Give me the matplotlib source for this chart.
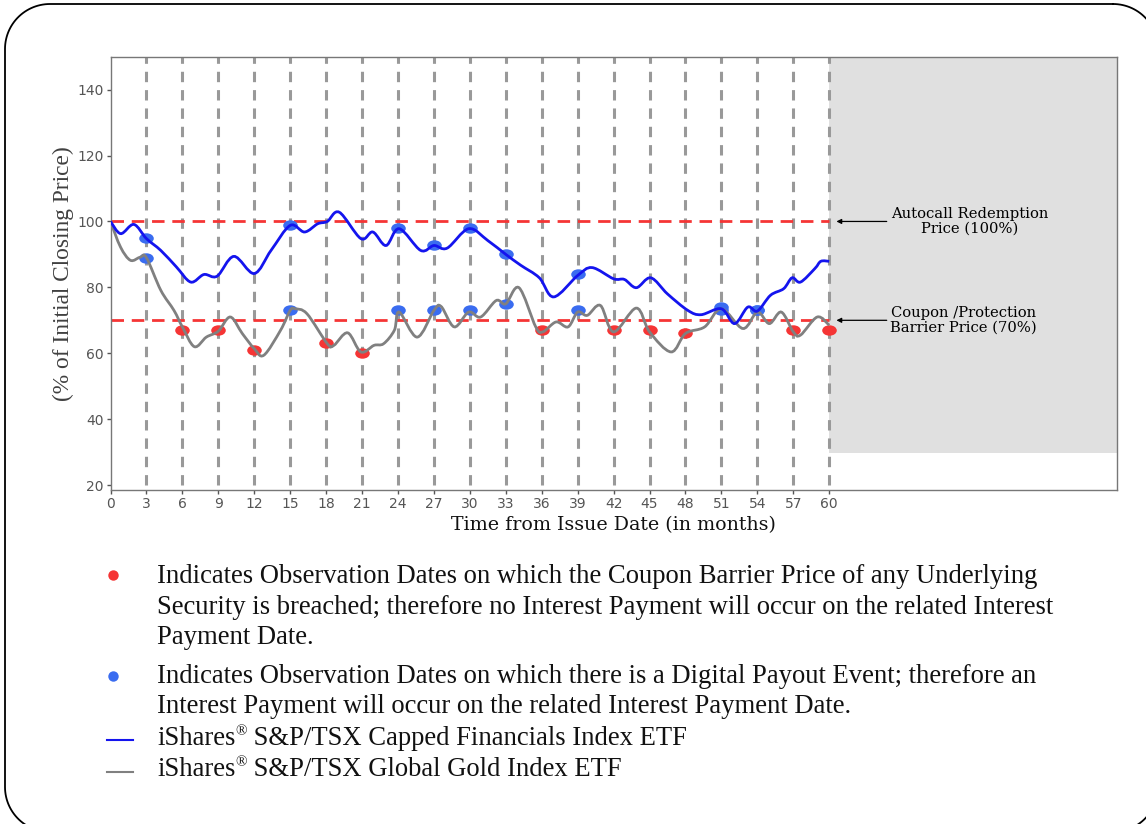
import numpy as np
import matplotlib
matplotlib.use("Agg")
import matplotlib.pyplot as plt
from matplotlib.patches import PathPatch
from matplotlib.lines import Line2D
from matplotlib.path import Path
from matplotlib.transforms import Affine2D, IdentityTransform

W, H = 1146, 824

# Financials ETF path (% of initial closing price)
fin_x = [0, 0.85, 1.95, 3, 4.2, 5.5, 6.7, 7.8, 8.9, 10.3, 12, 13.4, 15, 16.2, 17.3,
         18.1, 19.1, 20.9, 21.9, 23, 24.1, 25.9, 27, 28.1, 29.9, 31.5, 33, 34.25,
         35.8, 37, 39, 40.2, 42, 42.9, 43.9, 45.1, 46.5, 48.2, 49.3, 51, 52.1, 53.2,
         54, 55.1, 56.2, 56.9, 57.6, 58.8, 59.3, 60]
fin_y = [100, 96.3, 99.1, 94.8, 91.2, 86.2, 81.6, 83.9, 83.4, 89.4, 84.2, 91.2, 98.8,
         96.8, 99.3, 100, 102.8, 94.8, 96.8, 92.7, 97.8, 91.2, 92.7, 91.9, 97.8, 94.2,
         90, 86.7, 82.9, 77.1, 83.6, 86, 82.6, 82.4, 79.9, 82.9, 78, 73, 71.7, 73.5,
         69, 74, 72.8, 77.6, 79.6, 82.9, 81.6, 85.7, 87.9, 87.9]

# Gold ETF path
gold_x = [0, 0.84, 1.67, 2.5, 3, 4.2, 5.3, 6, 7, 8, 9, 10, 11, 12, 12.8, 14.2, 15,
          15.4, 16.4, 18.1, 18.65, 19.8, 20.9, 22, 22.8, 23.7, 24.1, 25.6, 27, 27.6,
          28.7, 29.9, 30.9, 32.2, 33, 34.1, 35.5, 36.1, 37.2, 38.2, 39, 39.8, 40.9,
          42, 43.9, 45, 46.8, 48, 49.6, 51, 52.8, 54, 55, 56, 57, 57.6, 59, 60]
gold_y = [100, 92.2, 88.2, 89.2, 89, 79.1, 73, 68, 62, 64.9, 66.7, 71, 66, 61.4,
          59.4, 67, 73, 73.5, 72, 62.9, 62.4, 66.2, 60.4, 62.4, 62.9, 67, 72.5, 64.9,
          73, 74.2, 68, 72.5, 71, 76, 75, 79.9, 68, 66.5, 69.5, 68, 72.5, 71.5, 74.5,
          66.5, 73.7, 66.5, 60.4, 66, 68, 73.5, 67.5, 72.5, 69, 72.5, 66.5, 65.5, 71,
          68.5]

obs_months = list(range(3, 61, 3))
xtick_vals = list(range(0, 61, 3))
ytick_vals = [20, 40, 60, 80, 100, 120, 140]

# coupon barrier breached (red)
breach_x = [6, 9, 12, 18, 21, 36, 42, 45, 48, 57, 60]
breach_y = [67, 67, 61, 63, 60, 67, 67, 67, 66, 67, 67]
# digital payout events (blue), on both underlyings
payout_x = [3, 15, 24, 27, 30, 33, 39, 51, 54]
payout_fin_y = [95, 99, 98, 93, 98, 90, 84, 74, 73]
payout_gold_y = [89, 73, 73, 73, 73, 75, 73, 73, 73]

autocall_level = 100
barrier_level = 70

note_red = ["Indicates Observation Dates on which the Coupon Barrier Price of any Underlying",
            "Security is breached; therefore no Interest Payment will occur on the related Interest",
            "Payment Date."]
note_blue = ["Indicates Observation Dates on which there is a Digital Payout Event; therefore an",
             "Interest Payment will occur on the related Interest Payment Date."]
fin_name = " S&P/TSX Capped Financials Index ETF"
gold_name = " S&P/TSX Global Gold Index ETF"

BLUE_LINE = "#1414ee"
GOLD_LINE = "#808080"
RED = "#f53535"
BLUE_DOT = "#3a6cf0"
SERIF = ["Liberation Serif", "DejaVu Serif"]


def fx(px):
    return px / W


def fy(py):
    return 1 - py / H


def smooth_path(xs, ys):
    # smoothed line like the original (bezier through every point)
    pts = list(zip(xs, ys))
    verts = [pts[0]]
    codes = [Path.MOVETO]
    n = len(pts)
    for i in range(n - 1):
        p0 = pts[max(i - 1, 0)]
        p1 = pts[i]
        p2 = pts[i + 1]
        p3 = pts[min(i + 2, n - 1)]
        c1 = (p1[0] + (p2[0] - p0[0]) / 6, p1[1] + (p2[1] - p0[1]) / 6)
        c2 = (p2[0] - (p3[0] - p1[0]) / 6, p2[1] - (p3[1] - p1[1]) / 6)
        verts += [c1, c2, p2]
        codes += [Path.CURVE4] * 3
    return Path(verts, codes)


def rounded_frame(x0, y0, x1, y1, r):
    # outline in pixels, y measured from the top of the image
    corners = [(x1 - r, y0 + r, -90, 0), (x1 - r, y1 - r, 0, 90),
               (x0 + r, y1 - r, 90, 180), (x0 + r, y0 + r, 180, 270)]
    xs, ys = [], []
    for cx, cy, a0, a1 in corners:
        a = np.radians(np.linspace(a0, a1, 30))
        xs += list(cx + r * np.cos(a))
        ys += list(cy + r * np.sin(a))
    xs.append(xs[0])
    ys.append(ys[0])
    return xs, [H - y for y in ys]


fig = plt.figure(figsize=(W / 100, H / 100), dpi=100)
ax = fig.add_axes([fx(110.5), fy(490), (1116.7 - 110.5) / W, (490 - 56.7) / H])
ax.set_xlim(0, 84)
ax.set_ylim(18.5, 150)

# grey region after maturity
ax.fill_between([60, 84], 29.7, 150, color="#e0e0e0", lw=0, zorder=0)

ax.vlines(obs_months, 20, 150, colors="#999999", lw=2.2,
          linestyles=(0, (3.4, 2.6)), zorder=1)
ax.hlines([autocall_level, barrier_level], 0, 60, colors=RED, lw=2,
          linestyles=(0, (4.5, 2.8)), zorder=2)

ell = Path.unit_circle().transformed(Affine2D().scale(1.4, 1.0))
ax.plot(breach_x, breach_y, ls="none", marker=ell, ms=10.5, mfc=RED, mec="none", zorder=3)
ax.plot(payout_x, payout_fin_y, ls="none", marker=ell, ms=10.5, mfc=BLUE_DOT, mec="none", zorder=3)
ax.plot(payout_x, payout_gold_y, ls="none", marker=ell, ms=10.5, mfc=BLUE_DOT, mec="none", zorder=3)

ax.add_patch(PathPatch(smooth_path(gold_x, gold_y), fill=False, ec=GOLD_LINE, lw=2, zorder=4))
ax.add_patch(PathPatch(smooth_path(fin_x, fin_y), fill=False, ec=BLUE_LINE, lw=2, zorder=5))

ax.set_xticks(xtick_vals)
ax.set_yticks(ytick_vals)
ax.tick_params(colors="#555555", labelsize=10, length=3, width=1, pad=2)
for s in ax.spines.values():
    s.set_color("#777777")
    s.set_linewidth(1)

ax.set_xlabel("Time from Issue Date (in months)", family="DejaVu Serif",
              fontsize=13.7, color="#111111", labelpad=4)
ax.set_ylabel("(% of Initial Closing Price)", family=SERIF,
              fontsize=16.8, color="#404040", labelpad=2)

arrow = dict(arrowstyle="-|>", color="black", lw=0.9, mutation_scale=7,
             shrinkA=0, shrinkB=0)
ax.annotate("", xy=(60.6, autocall_level), xytext=(64.8, autocall_level), arrowprops=arrow)
ax.annotate("", xy=(60.6, barrier_level), xytext=(64.8, barrier_level), arrowprops=arrow)
ax.text(71.7, autocall_level, "Autocall Redemption\nPrice (100%)", family="DejaVu Serif",
        fontsize=10.6, ha="center", va="center", linespacing=1.0)
ax.text(71.2, barrier_level, "Coupon /Protection\nBarrier Price (70%)", family="DejaVu Serif",
        fontsize=10.6, ha="center", va="center", linespacing=1.0)

# notes below the chart
FS = 19.2
for k, line in enumerate(note_red):
    fig.text(fx(157), fy(583.3 + 30.5 * k), line, family=SERIF, fontsize=FS,
             color="#111111", va="baseline")
for k, line in enumerate(note_blue):
    fig.text(fx(157), fy(683.3 + 30 * k), line, family=SERIF, fontsize=FS,
             color="#111111", va="baseline")
fig.add_artist(Line2D([fx(113)], [fy(575)], marker="o", ms=7.5, color=RED, mec="none"))
fig.add_artist(Line2D([fx(113)], [fy(676)], marker="o", ms=7.5, color=BLUE_DOT, mec="none"))

renderer = fig.canvas.get_renderer()
for base, name, col in [(745, fin_name, BLUE_LINE), (776.5, gold_name, GOLD_LINE)]:
    fig.add_artist(Line2D([fx(107), fx(133)], [fy(base - 5)] * 2, color=col, lw=1.5))
    t = fig.text(fx(157), fy(base), "iShares", family=SERIF, fontsize=FS,
                 color="#111111", va="baseline")
    bb = t.get_window_extent(renderer)
    r = fig.text(bb.x1 / W, fy(base - 10), "®", family=SERIF, fontsize=11,
                 color="#111111", va="baseline")
    bb2 = r.get_window_extent(renderer)
    fig.text(bb2.x1 / W, fy(base), name, family=SERIF, fontsize=FS,
             color="#111111", va="baseline")

# rounded frame around the slide
frx, fry = rounded_frame(5, 4, 1158, 832, 45)
fig.add_artist(Line2D(frx, fry, color="black", lw=1.3, transform=IdentityTransform()))

fig.savefig("out.png", dpi=100)
